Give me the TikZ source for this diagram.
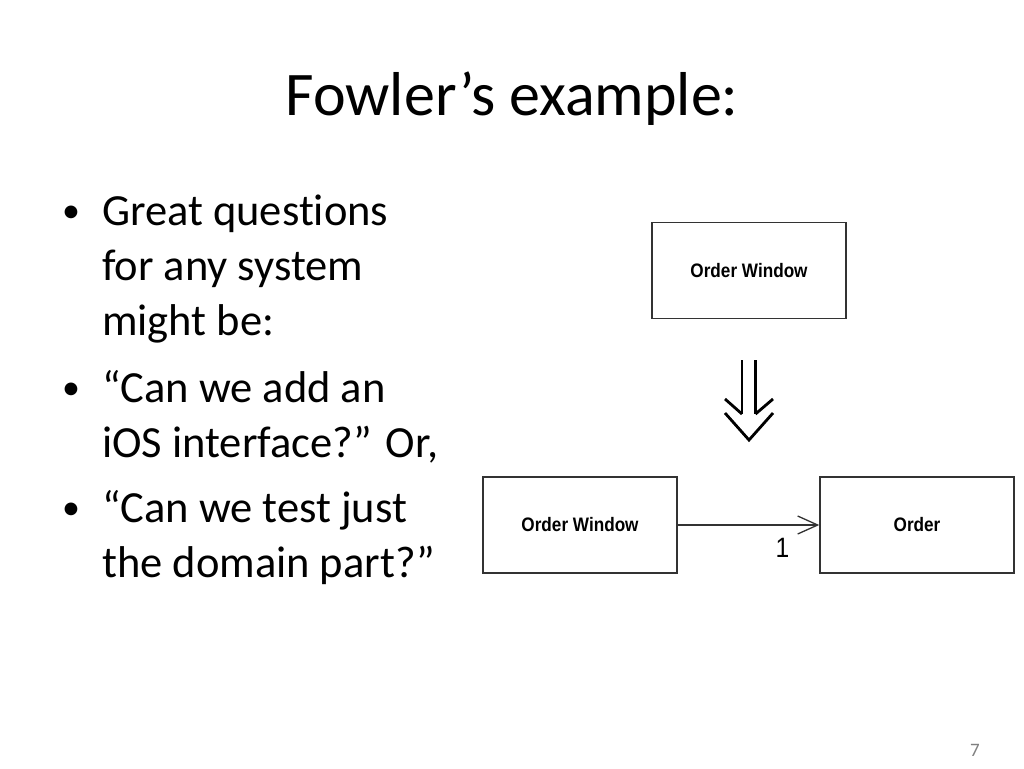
\documentclass[tikz,border=0pt]{standalone}
\usepackage{fontspec}
\setmainfont{Carlito}[Ligatures=NoCommon]
\newfontfamily\boxfont{Liberation Sans}[FakeStretch=0.88]
\usetikzlibrary{arrows.meta}
\begin{document}
\begin{tikzpicture}[x=1pt, y=-1pt,
    umlbox/.style={draw=black!80, line width=1.5pt, fill=white, minimum width=194pt, minimum height=96pt, inner sep=0pt, font=\boxfont\bfseries\fontsize{19.5}{22}\selectfont},
    bodyline/.style={anchor=base west, inner sep=0pt, font=\fontsize{44.5}{52}\selectfont},
    bulletmark/.style={anchor=base, inner sep=0pt, font=\fontsize{36}{40}\selectfont},
    assoc/.style={draw=black!80, line width=1.3pt, -{Straight Barb[length=20pt, width=18pt, line width=1.3pt]}},
    implies/.style={line width=2.8pt, line join=miter}]
    \useasboundingbox[fill=white] (0,0) rectangle (1024,768);
    % title
    \node [anchor=base, inner sep=0pt, font=\fontsize{62}{70}\selectfont] (title) at (512,115) {Fowler’s example:};
    % bullets
    \node [bulletmark] (b1) at (71,222) {\textbullet};
    \node [bodyline] (l1) at (102,225) {Great questions};
    \node [bodyline] (l2) at (102,280) {for any system};
    \node [bodyline] (l3) at (102,335) {might be:};
    \node [bulletmark] (b2) at (71,399) {\textbullet};
    \node [bodyline] (l4) at (102,402) {“Can we add an};
    \node [bodyline] (l5) at (102,457) {iOS interface?” Or,};
    \node [bulletmark] (b3) at (71,519) {\textbullet};
    \node [bodyline] (l6) at (102,522) {“Can we test just};
    \node [bodyline] (l7) at (102,577) {the domain part?”};
    % diagram
    \node [umlbox] (owin) at (749,270.5) {Order Window};
    \node [umlbox] (owin2) at (580,525) {Order Window};
    \node [umlbox] (order) at (917,525) {Order};
    \draw [assoc] (owin2) -- (order) node [pos=0.74, below=13pt, inner sep=0pt, font=\boxfont\fontsize{28}{30}\selectfont] (mult) {1};
    % double arrow
    \draw [implies] (742,360) -- (742,414) (755.5,360) -- (755.5,414);
    \draw [implies] (725,399) -- (742,414) (755.5,414) -- (773,399);
    \draw [implies] (725,413) -- (749,440) -- (773,413);
    % page number
    \node [anchor=base, inner sep=0pt, text=black!50, font=\fontsize{19}{22}\selectfont] (pagenum) at (975,756) {7};
\end{tikzpicture}
\end{document}
